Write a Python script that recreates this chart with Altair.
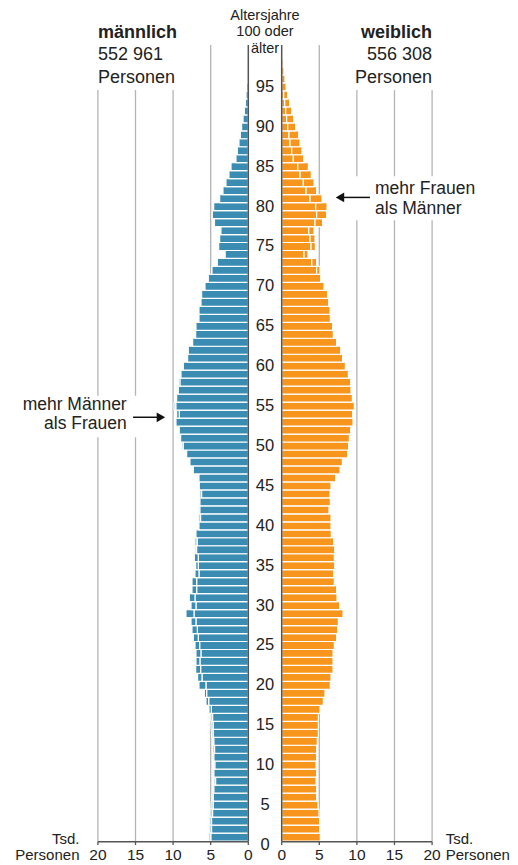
import altair as alt
import pandas as pd

# ---------------- data (thousand persons), ages 1..100 ----------------
AGES = list(range(1, 101))
MALE = [4.96, 4.88, 4.88, 4.74, 4.65, 4.65, 4.57, 4.34, 4.57, 4.43,   # 1-10
        4.57, 4.48, 4.57, 4.65, 4.65, 4.74, 5.23, 5.63, 5.85, 6.56,   # 11-20
        6.74, 7.00, 6.96, 6.96, 7.09, 7.31, 7.49, 7.62, 8.29, 7.62,   # 21-30
        7.85, 7.49, 7.49, 7.09, 7.00, 7.18, 6.87, 6.78, 6.96, 6.56,   # 31-40
        6.34, 6.43, 6.43, 6.20, 6.52, 6.56, 7.31, 7.76, 8.20, 8.64,   # 41-50
        9.00, 9.18, 9.62, 9.53, 9.62, 9.53, 9.31, 9.30, 8.95, 8.64,   # 51-60
        8.07, 7.98, 7.40, 7.00, 6.96, 6.56, 6.56, 6.29, 6.21, 5.76,   # 61-70
        5.32, 4.83, 4.12, 3.08, 3.94, 3.81, 3.64, 4.50, 4.79, 4.60,   # 71-80
        3.81, 3.37, 2.97, 2.57, 2.30, 1.64, 1.46, 1.24, 1.06, 0.89,   # 81-90
        0.70, 0.53, 0.38, 0.30, 0.22, 0.15, 0.10, 0.06, 0.03, 0.01]   # 91-100
# value marked on each male bar (white split line when smaller, pale extension when larger)
MALE_MARK = [5.27, 5.19, 5.19, 5.10, 4.96, 4.83, 4.74, 4.57, 4.79, 4.65,
             4.74, 4.74, 4.79, 4.88, 4.96, 5.00, 4.92, 5.27, 5.54, 5.63,
             6.16, 6.34, 6.43, 6.30, 6.47, 6.65, 6.78, 6.96, 7.22, 6.96,
             7.09, 6.87, 6.87, 6.56, 6.65, 6.65, 7.09, 7.18, 6.96, 6.56,
             6.65, 6.65, 6.43, 6.52, 6.52, 6.56, 7.40, 7.76, 8.20, 8.87,
             9.18, 9.18, 9.75, 9.18, 9.88, 9.53, 9.31, 9.10, 9.09, 8.64,
             8.20, 7.98, 7.40, 7.00, 6.96, 6.56, 6.56, 6.29, 6.21, 5.76,
             5.32, 4.83, 4.12, 3.08, 3.94, 3.81, 3.64, 4.50, 4.79, 4.60,
             3.81, 3.37, 2.97, 2.57, 2.30, 1.64, 1.46, 1.24, 1.06, 0.89,
             0.70, 0.53, 0.38, 0.30, 0.22, 0.15, 0.10, 0.06, 0.03, 0.01]
FEMALE = [5.14, 5.05, 5.05, 4.96, 4.83, 4.65, 4.65, 4.57, 4.65, 4.57,
          4.65, 4.65, 4.74, 4.88, 4.88, 4.88, 5.10, 5.54, 5.76, 6.47,
          6.56, 6.83, 6.83, 6.83, 7.00, 7.31, 7.45, 7.54, 8.16, 7.71,
          7.36, 7.31, 7.00, 6.91, 7.05, 7.00, 7.05, 6.91, 6.60, 6.56,
          6.56, 6.29, 6.47, 6.43, 6.56, 7.18, 7.76, 8.07, 8.78, 8.90,
          9.00, 9.18, 9.49, 9.44, 9.66, 9.40, 9.22, 9.18, 8.87, 8.47,
          8.10, 7.85, 7.30, 6.87, 6.78, 6.47, 6.43, 6.25, 6.10, 5.63,
          5.19, 5.10, 4.65, 3.50, 4.48, 4.43, 4.30, 5.45, 5.98, 6.03,
          5.36, 4.65, 4.30, 3.94, 3.55, 2.93, 2.70, 2.44, 2.26, 1.86,
          1.60, 1.33, 1.06, 0.80, 0.58, 0.44, 0.30, 0.20, 0.10, 0.05]
FEMALE_MARK = [5.14, 5.05, 5.05, 4.96, 4.83, 4.65, 4.65, 4.57, 4.65, 4.57,
               4.65, 4.65, 4.74, 4.88, 4.88, 4.88, 5.10, 5.54, 5.76, 6.47,
               6.56, 6.83, 6.83, 6.83, 7.00, 7.31, 7.45, 7.54, 8.16, 7.71,
               7.36, 7.31, 7.00, 6.91, 7.05, 7.00, 7.05, 6.91, 6.60, 6.56,
               6.56, 6.29, 6.47, 6.43, 6.56, 7.18, 7.76, 8.07, 8.78, 8.90,
               9.00, 9.18, 9.49, 9.44, 9.66, 9.40, 9.22, 9.18, 8.87, 8.47,
               8.10, 7.85, 7.30, 6.87, 6.78, 6.56, 6.56, 6.29, 6.10, 5.76,
               5.19, 4.65, 4.00, 2.97, 3.90, 3.77, 3.60, 4.43, 4.65, 4.52,
               3.77, 3.24, 2.88, 2.44, 2.13, 1.55, 1.33, 1.10, 0.97, 0.80,
               0.66, 0.53, 0.40, 0.27, 0.58, 0.44, 0.30, 0.20, 0.10, 0.05]
AGE_LABELS = list(range(0, 100, 5))
X_TICKS = [0, 5, 10, 15, 20]
TOTAL_M = "552 961"
TOTAL_F = "556 308"

BLUE, ORANGE = "#3a8cb3", "#f7951d"
LIGHT_BLUE, LIGHT_ORANGE = "#b7d5e5", "#fcd6a4"
GRID, AXIS, TXT = "#b4b4b4", "#555555", "#222222"
FONT = "Liberation Sans"

GAP = 4.44          # width of the central age column, in thousand-person units
W, H = 502, 849
xs = alt.Scale(domain=[-31.955, 34.80], nice=False, zero=False)
ys = alt.Scale(domain=[-1.504, 104.887], nice=False, zero=False)

# ---------------- bar table ----------------
rows = []
for a, m, mm, f, fm in zip(AGES, MALE, MALE_MARK, FEMALE, FEMALE_MARK):
    for sex, v, o, sgn, off in (("m", m, mm, -1, 0.0), ("f", f, fm, 1, GAP)):
        common = min(v, o)
        rows.append(dict(age=a, sex=sex, part="base", x0=off, x1=off + sgn * common))
        if v > o:
            rows.append(dict(age=a, sex=sex, part="excess", x0=off + sgn * o, x1=off + sgn * v))
        elif o > v:
            rows.append(dict(age=a, sex=sex, part="ghost", x0=off + sgn * v, x1=off + sgn * o))
bars = pd.DataFrame(rows)
bars["y0"] = bars["age"] - 0.5
bars["y1"] = bars["age"] + 0.5

X = lambda f: alt.X(f, scale=xs, axis=None)
Y = lambda f: alt.Y(f, scale=ys, axis=None)

ghost = alt.Chart(bars).transform_filter("datum.part == 'ghost'").mark_rect(
    stroke="white", strokeWidth=1.0).encode(
    x=X("x0:Q"), x2="x1:Q", y=Y("y0:Q"), y2="y1:Q",
    color=alt.Color("sex:N", scale=alt.Scale(domain=["m", "f"], range=[LIGHT_BLUE, LIGHT_ORANGE]), legend=None))
solid = alt.Chart(bars).transform_filter("datum.part != 'ghost'").mark_rect(
    stroke="white", strokeWidth=1.2).encode(
    x=X("x0:Q"), x2="x1:Q", y=Y("y0:Q"), y2="y1:Q",
    color=alt.Color("sex:N", scale=alt.Scale(domain=["m", "f"], range=[BLUE, ORANGE]), legend=None))
bar_layer = alt.layer(ghost, solid).resolve_scale(color="independent")

# ---------------- grid lines (interrupted behind the annotations) ----------------
grid_rows = []
for t in X_TICKS[1:]:
    top = 100.25 if t == 5 else 94.6
    for side, off, sgn in (("m", 0.0, -1), ("f", GAP, 1)):
        u = off + sgn * t
        if side == "m" and t in (15, 20):
            segs = [(top, 56.3), (51.1, 0.41)]
        elif side == "f" and t in (10, 15, 20):
            segs = [(top, 83.8), (78.3, 0.41)]
        else:
            segs = [(top, 0.41)]
        for a0, a1 in segs:
            grid_rows.append(dict(u=u, a0=a0, a1=a1))
grid = alt.Chart(pd.DataFrame(grid_rows)).mark_rule(color=GRID, strokeWidth=1.3).encode(
    x=X("u:Q"), y=Y("a0:Q"), y2="a1:Q")

# ---------------- axes ----------------
zero_lines = alt.Chart(pd.DataFrame({"u": [0.0, GAP], "a0": [100.25, 100.25], "a1": [0.41, 0.41]})).mark_rule(
    color=AXIS, strokeWidth=1.5).encode(x=X("u:Q"), y=Y("a0:Q"), y2="a1:Q")
base_lines = alt.Chart(pd.DataFrame({"u0": [-20.0, GAP], "u1": [0.0, GAP + 20], "a": [0.41, 0.41]})).mark_rule(
    color=AXIS, strokeWidth=1.5).encode(x=X("u0:Q"), x2="u1:Q", y=Y("a:Q"))
tick_df = pd.DataFrame([dict(u=-t, lab=str(t)) for t in X_TICKS] + [dict(u=GAP + t, lab=str(t)) for t in X_TICKS])
tick_df["a0"], tick_df["a1"], tick_df["al"] = 0.41, 0.0, -1.28
ticks = alt.Chart(tick_df).mark_rule(color=AXIS, strokeWidth=1.3).encode(x=X("u:Q"), y=Y("a0:Q"), y2="a1:Q")
tick_labels = alt.Chart(tick_df).mark_text(font=FONT, fontSize=15.5, color=TXT, baseline="middle").encode(
    x=X("u:Q"), y=Y("al:Q"), text="lab:N")

age_df = pd.DataFrame({"age": AGE_LABELS, "lab": [str(a) for a in AGE_LABELS], "u": GAP / 2})
age_labels = alt.Chart(age_df).mark_text(font=FONT, fontSize=16.5, color=TXT, baseline="middle").encode(
    x=X("u:Q"), y=Y("age:Q"), text="lab:N")

top_df = pd.DataFrame({"u": GAP / 2, "a": [103.9, 101.85, 99.8], "lab": ["Altersjahre", "100 oder", "älter"]})
top_labels = alt.Chart(top_df).mark_text(font=FONT, fontSize=14.5, color=TXT, baseline="middle").encode(
    x=X("u:Q"), y=Y("a:Q"), text="lab:N")


def texts(df, align, bold=False, size=18):
    return alt.Chart(pd.DataFrame(df)).mark_text(
        font=FONT, fontSize=size, color=TXT, align=align, baseline="middle",
        fontWeight="bold" if bold else "normal").encode(x=X("u:Q"), y=Y("a:Q"), text="lab:N")


head_m = texts({"u": [-20.0], "a": [101.75], "lab": ["männlich"]}, "left", bold=True)
head_m2 = texts({"u": [-20.0, -20.0], "a": [99.0, 96.1], "lab": [TOTAL_M, "Personen"]}, "left")
head_f = texts({"u": [GAP + 20], "a": [101.75], "lab": ["weiblich"]}, "right", bold=True)
head_f2 = texts({"u": [GAP + 20, GAP + 20], "a": [99.0, 96.1], "lab": [TOTAL_F, "Personen"]}, "right")

unit_l = texts({"u": [-22.45, -22.45], "a": [0.75, -1.28], "lab": ["Tsd.", "Personen"]}, "right", size=15)
unit_r = texts({"u": [26.25, 26.25], "a": [0.75, -1.28], "lab": ["Tsd.", "Personen"]}, "left", size=15)

ann_m = texts({"u": [-16.17, -16.17], "a": [55.2, 52.8], "lab": ["mehr Männer", "als Frauen"]}, "right", size=17.5)
ann_f = texts({"u": [16.85, 16.85], "a": [82.15, 79.75], "lab": ["mehr Frauen", "als Männer"]}, "left", size=17.5)

arrow_lines = alt.Chart(pd.DataFrame({"u0": [-15.33, 16.18], "u1": [-11.7, 12.7], "a": [53.6, 81.15]})).mark_rule(
    color="#111111", strokeWidth=1.5).encode(x=X("u0:Q"), x2="u1:Q", y=Y("a:Q"))
heads = alt.Chart(pd.DataFrame({"u": [-11.62, 12.19], "a": [53.6, 81.15],
                                "shape": ["triangle-right", "triangle-left"]})).mark_point(
    filled=True, size=95, color="#111111", opacity=1).encode(
    x=X("u:Q"), y=Y("a:Q"), shape=alt.Shape("shape:N", scale=None, legend=None))

chart = alt.layer(
    grid, bar_layer, zero_lines, base_lines, ticks, tick_labels, age_labels, top_labels,
    head_m, head_m2, head_f, head_f2, unit_l, unit_r, ann_m, ann_f, arrow_lines, heads
).resolve_scale(color="independent").properties(
    width=W, height=H, autosize=alt.AutoSizeParams(type="none"),
    padding={"left": 0, "top": 0, "right": 0, "bottom": 8}
).configure_view(strokeWidth=0)

chart.save("out.html", embed_options={"renderer": "svg", "actions": False})
